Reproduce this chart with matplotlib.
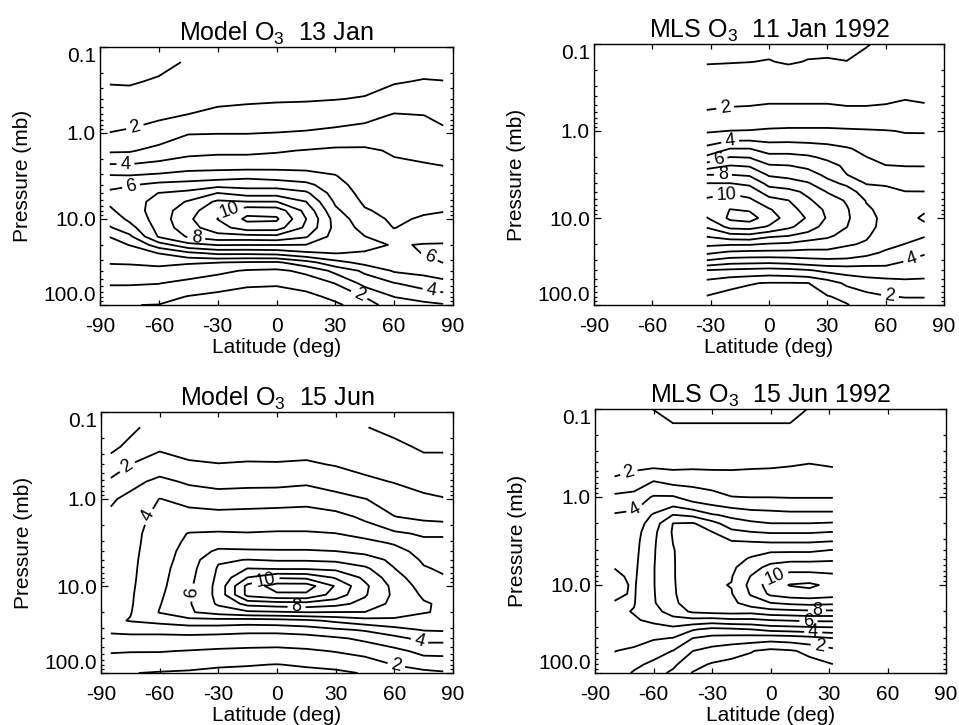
import numpy as np
import matplotlib
matplotlib.use('Agg')
import matplotlib.pyplot as plt
from matplotlib.ticker import LogLocator, NullFormatter, NullLocator, FixedLocator

plt.rcParams['font.family'] = ['Liberation Sans', 'DejaVu Sans']
plt.rcParams['mathtext.fontset'] = 'custom'
plt.rcParams['mathtext.rm'] = 'Liberation Sans'
plt.rcParams['axes.unicode_minus'] = False

# ---------------- data (ozone mixing ratio, ppmv) ----------------
model_lat = [-85, -75, -60, -45, -30, -15, 0, 15, 30, 45, 60, 75, 85]
model_p = [0.15, 0.25, 0.4, 0.63, 1.0, 1.6, 2.5, 3.2, 4.0, 5.0, 6.3, 8.0, 10.0,
           12.6, 16.0, 20.0, 25.0, 32.0, 40.0, 56.0, 80.0, 100.0]
mls_p = [0.1, 0.16, 0.25, 0.4, 0.63, 1.0, 1.6, 2.0, 2.5, 3.2, 4.0, 5.0, 6.3, 8.0,
         10.0, 12.6, 16.0, 20.0, 25.0, 32.0, 40.0, 56.0, 80.0, 100.0]
mls_jan_lat = [-32, -20, -10, 0, 10, 20, 30, 40, 50, 60, 70, 80]
mls_jun_lat = [-80, -70, -60, -50, -40, -30, -20, -10, 0, 10, 20, 32]

# one profile (top -> bottom) per latitude
model_jan = [
    [0.7, 0.95, 1.27, 1.64, 2.02, 2.87, 4.33, 5.13, 5.8, 6.15, 6.15, 5.83, 5.39, 4.91, 4.02, 3.69, 3.38, 3.06, 2.68, 2.08, 1.45, 1.04],
    [0.75, 0.93, 1.27, 1.67, 2.15, 2.9, 4.3, 5.1, 5.9, 6.4, 6.6, 6.5, 6.2, 5.6, 4.77, 4.02, 3.55, 3.09, 2.68, 2.08, 1.43, 1.02],
    [0.85, 1.07, 1.5, 1.85, 2.5, 3.3, 4.5, 5.25, 6.3, 7.02, 7.3, 7.45, 7.45, 7.35, 7.1, 5.5, 4.02, 3.17, 2.78, 2.02, 1.38, 0.97],
    [1.05, 1.3, 1.6, 2.05, 2.95, 3.7, 4.7, 5.5, 6.4, 7.3, 8.1, 8.6, 8.8, 8.6, 8.1, 6.67, 4.75, 3.1, 2.5, 1.72, 0.95, 0.6],
    [1.3, 1.55, 1.75, 2.35, 2.97, 3.8, 4.75, 5.6, 6.65, 8.02, 9.2, 9.7, 10.02, 9.6, 8.6, 7.05, 5.2, 3.02, 2.23, 1.4, 0.75, 0.5],
    [1.35, 1.6, 1.85, 2.4, 2.97, 3.8, 4.75, 5.8, 6.6, 7.6, 9.02, 10.7, 11.2, 10.5, 8.6, 7.02, 5.2, 2.9, 1.9, 1.14, 0.6, 0.4],
    [1.4, 1.65, 1.9, 2.45, 3.02, 3.9, 4.8, 5.6, 6.6, 7.6, 9.02, 10.6, 11.15, 10.45, 8.7, 7.02, 5.3, 2.85, 1.8, 1.1, 0.55, 0.35],
    [1.4, 1.65, 1.92, 2.5, 3.1, 4.05, 4.8, 5.4, 6.3, 7.2, 8.02, 8.7, 9.02, 8.8, 8.1, 6.98, 5.8, 3.6, 2.22, 1.38, 0.7, 0.45],
    [1.45, 1.7, 1.97, 2.6, 3.25, 4.2, 4.8, 5.05, 5.3, 5.55, 5.85, 6.2, 6.6, 6.7, 6.6, 6.4, 6.02, 4.67, 3.25, 2.02, 1.25, 0.8],
    [1.55, 1.78, 2.05, 2.7, 3.5, 4.15, 4.4, 4.5, 4.6, 4.7, 4.85, 5.1, 5.35, 5.65, 6.02, 6.3, 5.9, 5.3, 4.2, 3.3, 2.02, 1.55],
    [1.65, 1.92, 2.5, 3.1, 3.5, 3.9, 4.2, 4.3, 4.4, 4.5, 4.6, 4.7, 4.85, 4.97, 5.4, 5.92, 5.7, 5.4, 5.1, 3.95, 3.02, 2.5],
    [1.7, 2.05, 2.5, 3.02, 3.4, 3.8, 4.1, 4.25, 4.4, 4.55, 4.7, 4.9, 5.1, 5.4, 5.7, 6.05, 6.03, 5.7, 5.3, 4.4, 3.35, 2.75],
    [1.6, 2.02, 2.35, 2.75, 3.24, 3.64, 4.04, 4.3, 4.5, 4.6, 4.75, 4.95, 5.3, 5.6, 5.8, 6.05, 6.15, 6.02, 5.5, 4.7, 3.6, 2.9],
]

model_jun = [
    [0.6, 0.8, 1.4, 2.2, 2.85, 3.25, 3.45, 3.5, 3.55, 3.6, 3.65, 3.7, 3.7, 3.75, 3.8, 3.85, 3.8, 3.25, 2.6, 2.1, 1.35, 1.02],
    [0.85, 1.2, 2.02, 2.7, 3.3, 3.6, 3.7, 3.72, 3.75, 3.78, 3.8, 3.82, 3.85, 3.88, 3.9, 3.95, 4.05, 3.3, 2.7, 2.05, 1.35, 1.02],
    [1.3, 1.85, 2.5, 3.25, 4.02, 4.3, 4.45, 4.5, 4.55, 4.6, 4.65, 4.7, 4.75, 4.85, 4.95, 5.05, 4.3, 3.3, 2.7, 2.05, 1.25, 0.95],
    [1.45, 1.75, 2.1, 2.85, 3.75, 4.35, 5.05, 5.2, 5.35, 5.45, 5.6, 5.7, 5.8, 5.85, 5.9, 5.9, 4.6, 3.4, 2.7, 1.95, 1.2, 0.9],
    [1.5, 1.75, 2.02, 2.7, 3.5, 4.4, 5.1, 5.6, 6.2, 6.9, 7.1, 7.2, 7.3, 7.3, 7.15, 6.4, 4.6, 3.4, 2.6, 1.85, 1.1, 0.8],
    [1.5, 1.8, 2.05, 2.75, 3.55, 4.45, 5.05, 5.55, 6.15, 7.02, 8.02, 9.02, 10.3, 10.3, 8.3, 6.8, 4.5, 3.3, 2.5, 1.8, 1.05, 0.75],
    [1.45, 1.75, 2.05, 2.75, 3.6, 4.5, 5.1, 5.6, 6.1, 6.9, 7.9, 9.9, 11.5, 10.8, 8.5, 6.9, 4.6, 3.3, 2.5, 1.75, 0.98, 0.7],
    [1.4, 1.75, 2.1, 2.85, 3.7, 4.5, 5.1, 5.6, 6.1, 6.9, 7.9, 9.8, 11.5, 10.8, 8.6, 7.02, 4.8, 3.45, 2.6, 1.85, 1.1, 0.75],
    [1.3, 1.6, 1.95, 2.55, 3.4, 4.35, 5.02, 5.5, 6.02, 6.8, 7.8, 8.9, 9.9, 9.6, 8.3, 6.98, 5.2, 3.8, 2.85, 2.05, 1.2, 0.85],
    [1.02, 1.3, 1.75, 2.2, 3.02, 3.8, 4.7, 5.3, 5.8, 6.4, 7.2, 7.8, 8.2, 8.1, 7.7, 6.98, 5.6, 4.1, 3.2, 2.3, 1.5, 1.05],
    [0.85, 1.15, 1.55, 1.95, 2.65, 3.02, 4.2, 4.9, 5.4, 5.8, 6.02, 6.4, 6.7, 6.8, 6.7, 6.4, 5.8, 4.6, 3.7, 2.7, 2.02, 1.6],
    [0.7, 0.9, 1.25, 1.7, 2.2, 2.8, 3.85, 4.3, 4.6, 4.85, 5.1, 5.35, 5.6, 5.85, 6.1, 6.05, 5.6, 5.05, 4.3, 3.3, 2.3, 1.8],
    [0.7, 0.9, 1.25, 1.65, 2.05, 2.7, 3.9, 4.2, 4.4, 4.6, 4.85, 5.1, 5.4, 5.7, 5.85, 5.9, 5.55, 5.1, 4.3, 3.3, 2.4, 1.9],
]

mls_jan = [
    [0.8, 0.95, 1.35, 1.7, 2.1, 2.9, 4.3, 5.2, 6.5, 8.02, 9.02, 9.6, 10.2, 10.3, 9.95, 9.1, 8.1, 7.2, 6.2, 4.7, 2.95, 1.6, 0.95, 0.7],
    [0.8, 0.97, 1.4, 1.75, 2.2, 3.02, 5.02, 6.02, 7.02, 8.02, 9.02, 9.85, 10.5, 11.02, 11.2, 10.3, 8.6, 7.1, 5.8, 4.3, 2.8, 1.2, 0.75, 0.55],
    [0.82, 0.99, 1.45, 1.8, 2.2, 3.05, 5.02, 5.95, 6.9, 7.9, 8.8, 9.6, 10.2, 10.9, 11.4, 10.4, 8.7, 7.1, 5.7, 4.25, 2.7, 1.05, 0.65, 0.5],
    [0.85, 1.03, 1.45, 1.85, 2.25, 3.15, 4.6, 5.3, 6.1, 6.9, 7.7, 8.5, 9.4, 10.1, 10.5, 9.9, 8.2, 6.9, 5.7, 4.2, 2.6, 0.95, 0.6, 0.45],
    [0.8, 0.93, 1.45, 1.85, 2.25, 3.2, 4.6, 5.3, 6.02, 6.7, 7.5, 8.3, 9.02, 9.4, 9.6, 9.2, 8.02, 6.8, 5.7, 4.3, 2.7, 0.95, 0.6, 0.45],
    [0.85, 1.03, 1.45, 1.85, 2.25, 3.2, 4.5, 5.15, 5.8, 6.4, 7.1, 7.8, 8.15, 8.6, 8.9, 8.5, 7.6, 6.5, 5.7, 4.5, 2.9, 0.98, 0.6, 0.45],
    [0.86, 1.05, 1.45, 1.85, 2.25, 3.2, 4.35, 4.8, 5.35, 5.8, 6.3, 6.95, 7.5, 7.8, 7.9, 7.6, 7.2, 6.4, 5.75, 4.6, 3.25, 1.5, 0.95, 0.7],
    [0.85, 1.01, 1.42, 1.8, 2.2, 3.15, 4.1, 4.5, 4.8, 5.02, 5.8, 6.5, 6.9, 7.1, 7.15, 7.02, 6.6, 6.1, 5.6, 4.6, 3.4, 2.2, 1.2, 0.95],
    [0.97, 1.15, 1.45, 1.8, 2.2, 3.1, 3.75, 4.02, 4.3, 4.6, 4.95, 5.5, 5.95, 6.15, 6.25, 6.2, 6.1, 5.9, 5.3, 4.4, 3.5, 2.5, 1.7, 1.35],
    [1.1, 1.2, 1.45, 1.9, 2.15, 3.05, 3.45, 3.7, 4.02, 4.35, 4.9, 5.25, 5.5, 5.7, 5.8, 5.8, 5.6, 5.3, 4.85, 4.3, 3.6, 2.6, 1.95, 1.5],
    [1.15, 1.25, 1.5, 1.95, 2.25, 2.95, 3.5, 3.75, 3.98, 4.3, 4.7, 5.02, 5.4, 5.6, 5.7, 5.6, 5.3, 4.98, 4.5, 3.95, 3.6, 2.7, 2.05, 1.6],
    [1.15, 1.25, 1.5, 1.85, 2.3, 2.95, 3.45, 3.7, 3.98, 4.25, 4.6, 5.02, 5.5, 5.9, 6.15, 5.8, 5.05, 4.7, 4.1, 3.6, 3.3, 2.8, 2.05, 1.6],
]

mls_jun = [
    [1.2, 1.35, 1.6, 1.8, 2.05, 3.25, 4.1, 4.3, 4.45, 4.6, 4.75, 4.85, 4.98, 5.15, 5.25, 5.15, 4.95, 4.8, 4.6, 4.4, 4.2, 4.02, 3.7, 3.5],
    [1.2, 1.35, 1.55, 1.75, 2.3, 3.4, 4.25, 4.4, 4.55, 4.65, 4.7, 4.75, 4.8, 4.85, 4.9, 4.92, 4.95, 5.05, 4.9, 4.6, 4.3, 3.85, 3.2, 2.9],
    [0.99, 1.25, 1.45, 1.6, 2.9, 4.1, 5.1, 5.5, 5.75, 5.85, 5.9, 5.92, 5.95, 5.95, 5.95, 5.93, 5.9, 5.6, 5.2, 4.6, 4.1, 3.35, 2.8, 2.4],
    [0.85, 1.05, 1.4, 1.6, 2.6, 4.1, 6.02, 7.02, 7.1, 7.02, 6.95, 6.93, 6.92, 6.92, 6.9, 6.88, 6.8, 6.5, 5.6, 4.7, 3.98, 2.98, 2.2, 1.8],
    [0.85, 1.05, 1.45, 1.6, 2.7, 3.5, 5.8, 7.1, 7.4, 7.5, 7.55, 7.6, 7.65, 7.65, 7.65, 7.6, 7.5, 7.15, 5.7, 4.1, 3.02, 2.02, 1.3, 0.95],
    [0.85, 1.05, 1.45, 1.6, 2.6, 3.3, 5.1, 6.4, 7.02, 7.4, 7.55, 7.7, 7.8, 7.85, 7.9, 7.85, 7.7, 7.3, 5.6, 3.7, 2.7, 1.6, 0.9, 0.7],
    [0.85, 1.05, 1.45, 1.65, 2.5, 3.02, 4.8, 5.4, 6.3, 7.05, 7.4, 7.6, 7.8, 7.95, 8.03, 7.95, 7.75, 7.35, 5.8, 3.8, 2.6, 1.3, 0.75, 0.55],
    [0.85, 1.05, 1.5, 1.7, 2.55, 2.98, 4.5, 5.2, 6.02, 6.98, 7.6, 8.1, 8.6, 9.05, 9.3, 9.1, 8.5, 7.3, 5.8, 3.98, 2.5, 1.05, 0.65, 0.5],
    [0.85, 1.05, 1.5, 1.75, 2.55, 2.98, 4.4, 5.02, 5.9, 6.9, 7.8, 8.6, 9.3, 9.9, 10.5, 10.2, 8.98, 7.6, 6.02, 4.3, 2.4, 0.75, 0.55, 0.45],
    [0.85, 1.05, 1.5, 1.85, 2.55, 2.95, 4.3, 5.02, 5.9, 6.9, 7.8, 8.7, 9.6, 10.4, 11.05, 10.5, 9.2, 7.7, 6.1, 4.4, 2.5, 0.9, 0.55, 0.45],
    [1.02, 1.15, 1.55, 1.95, 2.6, 2.95, 4.3, 5.02, 5.9, 6.9, 7.8, 8.7, 9.6, 10.4, 11.2, 10.6, 9.3, 7.8, 6.2, 4.5, 2.7, 1.2, 0.7, 0.55],
    [1.15, 1.3, 1.6, 1.85, 2.45, 2.95, 4.3, 5.1, 6.02, 7.02, 8.02, 8.8, 9.6, 10.2, 10.7, 10.4, 9.2, 7.8, 6.2, 4.6, 3.02, 1.7, 0.98, 0.7],
]

odd_levels = [1, 3, 5, 7, 9, 11]
even_levels = [2, 4, 6, 8, 10]   # these carry labels

titles = ['Model O$_3$  13 Jan', 'MLS O$_3$  11 Jan 1992',
          'Model O$_3$  15 Jun', 'MLS O$_3$  15 Jun 1992']

# contour-label spots (lat, mb)
labels_p1 = [(-72, 0.89), (-77, 2.3), (-74, 4.3), (-24, 7.3), (-41, 17.5), (78, 27.5), (79, 68), (42.6, 72)]
labels_p2 = [(-22.8, 0.48), (-20.2, 1.2), (-26, 2.1), (-23.7, 3.2), (-22, 5.1), (74, 32), (62, 87)]
labels_p3 = [(-77, 0.41), (-65, 1.6), (-45.5, 11.7), (-6.3, 7.6), (10, 18), (73, 42), (61, 81)]
labels_p4 = [(-72, 0.59), (-70, 1.35), (2, 7.8), (23.8, 17.8), (19.5, 24), (22, 31.6), (25.5, 45)]

# ---------------- figure ----------------
W, H = 959, 725
fig = plt.figure(figsize=(W / 100, H / 100), dpi=100)

def rect(l, r, t, b):
    return [l / W, 1 - b / H, (r - l) / W, (b - t) / H]

axes_rects = [rect(100, 453, 47, 305), rect(594, 944, 44, 305),
              rect(101, 453, 412, 673), rect(595, 946, 409, 673)]

panels = [
    (model_lat, model_p, model_jan, labels_p1),
    (mls_jan_lat, mls_p, mls_jan, labels_p2),
    (model_lat, model_p, model_jun, labels_p3),
    (mls_jun_lat, mls_p, mls_jun, labels_p4),
]

for r, (lat, p, cols, lab), title in zip(axes_rects, panels, titles):
    ax = fig.add_axes(r)
    z = np.array(cols).T
    ax.set_yscale('log')
    ax.contour(lat, p, z, levels=odd_levels, colors='k', linewidths=1.3)
    cs = ax.contour(lat, p, z, levels=even_levels, colors='k', linewidths=1.3)
    ax.set_xlim(-90, 90)
    ax.set_ylim(100, 0.1)
    ax.clabel(cs, manual=lab, inline=True, inline_spacing=4, fmt='%d', fontsize=13)

    ax.set_xticks([-90, -60, -30, 0, 30, 60, 90])
    ax.set_xticklabels(['-90', '-60', '-30', '0', '30', '60', '90'])
    ax.xaxis.set_minor_locator(NullLocator())
    ax.yaxis.set_major_locator(FixedLocator([0.1, 1, 10, 100]))
    ax.set_yticklabels(['0.1', '1.0', '10.0', '100.0'])
    ax.yaxis.set_minor_locator(LogLocator(base=10, subs=np.arange(2, 10)))
    ax.yaxis.set_minor_formatter(NullFormatter())
    ax.tick_params(which='both', direction='in', top=True, right=True,
                   labelsize=15, width=0.9, colors='k')
    ax.tick_params(axis='x', which='major', length=3.6, pad=9)
    ax.tick_params(axis='y', which='major', length=5, pad=3)
    ax.tick_params(axis='y', which='minor', length=2.5)
    for s in ax.spines.values():
        s.set_linewidth(1.0)
    yl = ax.get_yticklabels()
    yl[0].set_va('top')
    yl[-1].set_va('bottom')

    ax.set_xlabel('Latitude (deg)', fontsize=15, labelpad=1)
    ax.set_ylabel('Pressure (mb)', fontsize=15, labelpad=8)
    ax.set_title(title, fontsize=18, pad=4)

fig.savefig('out.png', dpi=100)
